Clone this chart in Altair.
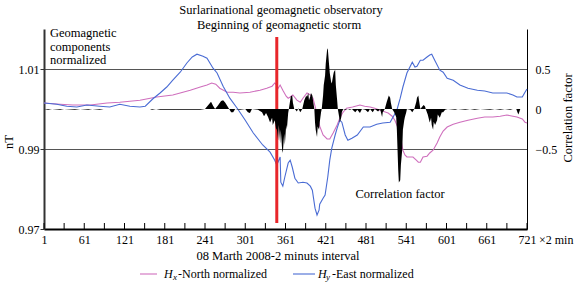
import altair as alt
import pandas as pd

# ---- data ----
hy_x = [1, 20, 35, 50, 65, 84, 99, 114, 129, 144, 152, 163, 174, 184, 193, 204, 214, 222, 229, 238,
        244, 253, 259, 268, 278, 289, 301, 313, 327, 338, 345, 348, 351, 353, 354, 357, 360, 365, 368, 371,
        375, 380, 387, 393, 398, 401, 405, 408, 411, 412, 417, 420, 424, 427, 430, 435, 438, 442, 445, 450,
        454, 460, 468, 477, 487, 497, 506, 517, 527, 532, 536, 542, 547, 550, 554, 557, 562, 566, 572, 576,
        579, 584, 591, 596, 602, 611, 621, 633, 647, 658, 670, 681, 691, 700, 706, 714, 718, 721]
hy_v = [1.0015, 1.0012, 1.0007, 1.0005, 1.0010, 1.0007, 1.0005, 1.0012, 1.0007, 1.0005, 1.0007, 1.0025,
        1.0040, 1.0055, 1.0072, 1.0092, 1.0115, 1.0130, 1.0137, 1.0132, 1.0127, 1.0102, 1.0090, 1.0057,
        1.0027, 1.0002, 0.9972, 0.9940, 0.9910, 0.9892, 0.9872, 0.9860, 0.9872, 0.9880, 0.9817, 0.9807,
        0.9830, 0.9865, 0.9872, 0.9855, 0.9827, 0.9815, 0.9817, 0.9815, 0.9807, 0.9797, 0.9752, 0.9735,
        0.9747, 0.9762, 0.9777, 0.9785, 0.9830, 0.9872, 0.9902, 0.9935, 0.9952, 0.9972, 0.9967, 0.9935,
        0.9922, 0.9927, 0.9935, 0.9955, 0.9955, 0.9962, 0.9965, 0.9967, 0.9997, 1.0027, 1.0055, 1.0090,
        1.0107, 1.0117, 1.0105, 1.0107, 1.0122, 1.0122, 1.0130, 1.0135, 1.0137, 1.0120, 1.0097, 1.0092,
        1.0077, 1.0072, 1.0060, 1.0052, 1.0047, 1.0045, 1.0040, 1.0040, 1.0040, 1.0035, 1.0030, 1.0030,
        1.0042, 1.0050]

hx_x = [1, 25, 44, 70, 95, 114, 144, 169, 193, 204, 219, 234, 244, 251, 257, 263, 274, 283, 293, 308,
        323, 333, 341, 345, 348, 350, 353, 357, 362, 365, 368, 372, 378, 383, 387, 393, 398, 402, 405, 409,
        412, 417, 423, 427, 432, 438, 442, 446, 452, 461, 472, 479, 487, 494, 502, 514, 520, 524, 529, 532,
        536, 539, 542, 547, 551, 556, 559, 562, 566, 572, 576, 581, 587, 591, 596, 602, 611, 621, 633, 647,
        658, 670, 681, 691, 700, 706, 714, 718, 721]
hx_v = [1.0015, 1.0012, 1.0010, 1.0010, 1.0015, 1.0017, 1.0022, 1.0030, 1.0035, 1.0040, 1.0047, 1.0055,
        1.0060, 1.0065, 1.0062, 1.0052, 1.0042, 1.0042, 1.0040, 1.0042, 1.0047, 1.0052, 1.0057, 1.0065,
        1.0060, 1.0052, 1.0060, 1.0047, 1.0032, 1.0027, 1.0030, 1.0035, 1.0022, 1.0017, 1.0027, 1.0040,
        1.0035, 1.0027, 1.0007, 0.9980, 0.9957, 0.9935, 0.9925, 0.9925, 0.9940, 0.9960, 0.9977, 0.9990,
        1.0002, 1.0005, 1.0010, 1.0007, 1.0005, 1.0002, 0.9997, 0.9990, 0.9982, 0.9972, 0.9952, 0.9935,
        0.9897, 0.9885, 0.9880, 0.9880, 0.9880, 0.9872, 0.9867, 0.9867, 0.9880, 0.9882, 0.9890, 0.9897,
        0.9915, 0.9930, 0.9945, 0.9955, 0.9962, 0.9967, 0.9972, 0.9977, 0.9980, 0.9980, 0.9982, 0.9985,
        0.9982, 0.9980, 0.9975, 0.9967, 0.9965]

corr_x = [1, 7, 13, 25, 31, 47, 55, 67, 73, 84, 90, 159, 162, 168, 174, 204, 219, 234, 241, 245,
          250, 253, 256, 260, 265, 268, 271, 274, 277, 280, 283, 286, 293, 301, 305, 308, 311, 320, 326, 329,
          332, 335, 338, 341, 342, 345, 347, 348, 350, 351, 353, 354, 356, 357, 359, 360, 362, 363, 365, 366,
          368, 369, 371, 372, 374, 375, 378, 380, 383, 386, 389, 392, 393, 395, 396, 398, 399, 401, 402, 404,
          405, 406, 408, 409, 411, 412, 414, 415, 417, 418, 420, 421, 423, 424, 426, 427, 429, 430, 432, 433,
          435, 436, 438, 439, 441, 442, 444, 445, 447, 450, 454, 457, 460, 465, 468, 472, 475, 480, 484, 487,
          491, 494, 499, 502, 505, 506, 509, 512, 515, 517, 518, 520, 523, 526, 527, 529, 530, 532, 533, 535,
          536, 538, 539, 541, 542, 547, 550, 553, 556, 557, 559, 560, 562, 565, 567, 569, 570, 573, 576, 578,
          579, 581, 582, 584, 587, 588, 591, 594, 596, 599, 603, 614, 618, 629, 636, 643, 651, 666, 673, 681,
          688, 696, 700, 705, 708, 709, 711, 721]
corr_v = [0, -0.01, 0, -0.01, 0, -0.01, 0, -0.01, 0, -0.01, 0, 0, -0.01, 0, -0.01, -0.01, -0.01, -0.01, 0, 0.04,
          0.09, 0.04, 0, 0.04, 0.10, 0.11, 0.08, 0.04, 0, -0.04, -0.04, 0, -0.01, 0, -0.04, -0.05, 0, -0.01, -0.04, -0.09,
          -0.05, -0.10, -0.17, -0.11, -0.20, -0.14, -0.26, -0.24, -0.39, -0.20, -0.43, -0.26, -0.51, -0.55, -0.31, -0.45, -0.20, -0.26, -0.05, 0,
          0.11, 0.16, 0.17, 0.08, 0, 0, -0.03, 0.01, -0.04, 0, 0.11, 0.17, 0.15, 0.20, 0.11, 0.16, 0.20, 0.17, 0.11, 0,
          -0.17, -0.26, -0.35, -0.22, -0.26, -0.17, -0.04, 0, 0.17, 0.30, 0.42, 0.57, 0.74, 0.76, 0.55, 0.45, 0.34, 0.32, 0.42, 0.46,
          0.49, 0.30, 0.11, 0, -0.10, -0.17, -0.11, -0.04, 0, -0.01, 0, -0.01, 0, -0.04, -0.01, -0.05, 0, -0.01, -0.04, 0,
          -0.04, 0, -0.03, 0, -0.10, -0.04, 0, 0.09, 0.17, 0.14, 0.08, 0, -0.04, -0.10, -0.26, -0.76, -0.92, -0.89, -0.70, -0.51,
          -0.26, -0.14, -0.10, -0.04, 0, -0.01, -0.04, 0, 0.09, 0.14, 0.17, 0.11, 0, 0.03, 0.05, 0.03, 0, -0.07, -0.17, -0.11,
          -0.20, -0.26, -0.16, -0.20, -0.14, -0.07, -0.11, -0.04, -0.04, -0.01, 0, -0.01, 0, -0.01, 0, -0.01, 0, -0.01, 0, -0.01,
          0, -0.01, 0, 0, -0.07, -0.05, 0, 0]

storm_x = [348]
storm_top = [1.018]
storm_bottom = [0.9715]

x_label_values = list(range(1, 722, 60))
x_tick_values = list(range(1, 722, 30))
left_values = [0.97, 0.99, 1.01]
right_values = [0.5, 0, -0.5]

FONT = "Liberation Serif"
PINK = "#cf6fbd"
BLUE = "#4a6cd4"
RED = "#e8262a"

hy_df = pd.DataFrame({"x": hy_x, "v": hy_v})
hx_df = pd.DataFrame({"x": hx_x, "v": hx_v})
corr_df = pd.DataFrame({"x": corr_x, "c": corr_v})
storm_df = pd.DataFrame({"x": storm_x, "y": storm_top, "y2": storm_bottom})
ticks_df = pd.DataFrame({"t": x_tick_values})
one = pd.DataFrame({"d": [0]})

xscale = alt.Scale(domain=[1, 721], nice=False, zero=False)
yl = alt.Scale(domain=[0.97, 1.02], nice=False, zero=False)
yr = alt.Scale(domain=[-1.5, 1.0], nice=False, zero=False)

xaxis = alt.Axis(orient="bottom", values=x_label_values, title=None, grid=False, tickSize=0,
                 labelPadding=5, domainColor="black", domainWidth=2, labelFontSize=12,
                 labelColor="black", labelFont=FONT, labelFlush=False, labelOverlap=False)
laxis = alt.Axis(orient="left", values=left_values, format=".2f", title=None, grid=True,
                 gridColor="#555555", gridWidth=1.2, domainColor="#333333", domainWidth=2,
                 tickColor="#333333", tickSize=4, labelPadding=1, labelFontSize=12,
                 labelColor="black", labelFont=FONT)
raxis = alt.Axis(orient="right", values=right_values, format="~g", title=None, grid=False,
                 domainColor="black", domainWidth=1, tickSize=0, labelPadding=8,
                 labelFontSize=12, labelColor="black", labelFont=FONT)

X = lambda f: alt.X(f, scale=xscale, axis=xaxis)

pink = alt.Chart(hx_df).mark_line(color=PINK, strokeWidth=1.1).encode(
    x=X("x:Q"), y=alt.Y("v:Q", scale=yl, axis=laxis))
blue = alt.Chart(hy_df).mark_line(color=BLUE, strokeWidth=1.1).encode(
    x=X("x:Q"), y=alt.Y("v:Q", scale=yl, axis=laxis))
storm = alt.Chart(storm_df).mark_rule(color=RED, strokeWidth=3).encode(
    x=X("x:Q"), y=alt.Y("y:Q", scale=yl, axis=laxis), y2="y2:Q")
left = alt.layer(pink, blue, storm)

corr = alt.Chart(corr_df).mark_area(color="black", interpolate="linear").encode(
    x=X("x:Q"), y=alt.Y("c:Q", scale=yr, axis=raxis), y2=alt.datum(0))

ticks = alt.Chart(ticks_df).mark_rule(color="black", strokeWidth=1).encode(
    x=X("t:Q"), y=alt.value(194), y2=alt.value(200))


def txt(s, x, y, size=12.5, align="center", baseline="alphabetic", angle=0, style="normal"):
    return alt.Chart(one).mark_text(text=s, font=FONT, fontSize=size, color="black",
                                    align=align, baseline=baseline, angle=angle,
                                    fontStyle=style).encode(x=alt.value(x), y=alt.value(y))


def seg(color, x1, x2, y):
    return alt.Chart(one).mark_rule(color=color, strokeWidth=1.1).encode(
        x=alt.value(x1), x2=alt.value(x2), y=alt.value(y))


texts = [
    txt("Surlarinational geomagnetic observatory", 237, -15),
    txt("Beginning of geomagnetic storm", 235, 0),
    txt("Geomagnetic", 6, 8, align="left"),
    txt("components", 6, 21.5, align="left"),
    txt("normalized", 6, 34.5, align="left"),
    txt("Correlation factor", 356, 169),
    txt("\u00d72 min", 495, 215, size=12, align="left"),
    txt("08 Marth 2008-2 minuts interval", 234, 231),
    txt("nT", -35, 113, size=12.5, baseline="middle", angle=270),
    txt("Correlation factor", 524, 89, size=12.5, baseline="middle", angle=270),
    seg(PINK, 96, 113, 245),
    txt("H", 120, 249, size=12, align="left", style="italic"),
    txt("x", 129, 251, size=9, align="left", style="italic"),
    txt("-North normalized", 134, 249, size=12, align="left"),
    seg(BLUE, 249, 271, 245),
    txt("H", 274, 249, size=12, align="left", style="italic"),
    txt("y", 282, 251, size=9, align="left", style="italic"),
    txt("-East normalized", 288, 249, size=12, align="left"),
]

chart = alt.layer(left, corr, ticks, *texts).resolve_scale(y="independent").properties(
    width=483, height=200,
    padding={"left": 44, "top": 29, "right": 53, "bottom": 55},
    autosize=alt.AutoSizeParams(type="none"),
    background="white",
).configure_view(stroke=None)

chart.save("out.html", embed_options={"renderer": "svg", "actions": False})
